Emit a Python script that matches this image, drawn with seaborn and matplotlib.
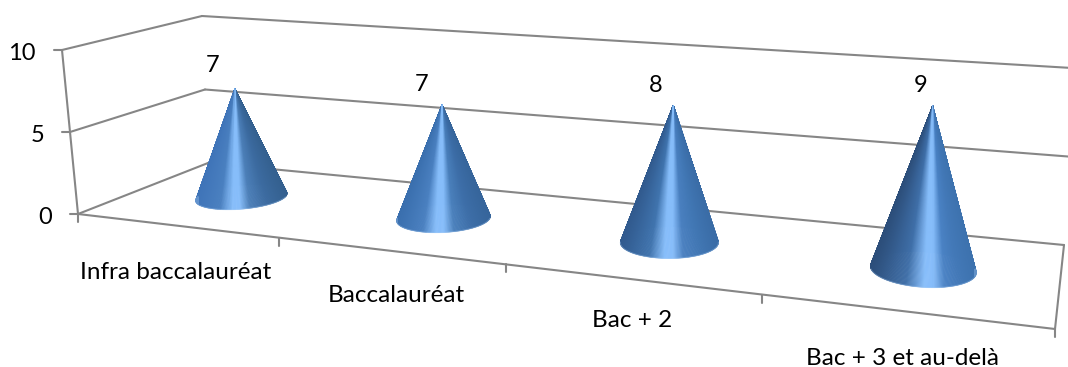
import numpy as np
import pandas as pd
import matplotlib
matplotlib.use('Agg')
import matplotlib.pyplot as plt
import seaborn as sns

categories = ['Infra baccalauréat', 'Baccalauréat', 'Bac + 2', 'Bac + 3 et au-delà']
values = [7, 7, 8, 9]
y_ticks = [0, 5, 10]
y_max = 10

# corners of the 3d box on screen (front left, front right, back right, back left)
floor_box = [(78, 214), (1055, 329), (1064, 245), (208, 163)]
top_box = [(62, 50), (1074, 124), (1072, 68), (202, 16)]

# label nudges, in pixels
value_dx = [-22, -21, -18, -12]
value_dy = [-23, -20, -20, -20]
cat_dx = [-0.5, 7, 2, -1]
cat_dy = [47, 45, 42, 47]

# stops across the cone, offsets from the highlight position
highlight = [0.45, 0.47, 0.5, 0.56]
cone_colors = [
    ['#3f74b8', '#4a80c0', '#86bdfa', '#86bdfa', '#4c7fb8', '#3c6ba0', '#34608f'],
    ['#3a6fae', '#4a80c0', '#86bdfa', '#86bdfa', '#4a80bc', '#3d6ea8', '#36659b'],
    ['#315a8e', '#4074ae', '#86bdfa', '#86bdfa', '#4a80c0', '#4177b4', '#3a6ca6'],
    ['#2c4e7a', '#3f6fa8', '#86bdfa', '#86bdfa', '#4a82c4', '#4379b8', '#3d72ae'],
]
radius_u, radius_w = 0.195, 0.22
base_depth, tip_depth = 0.5, 0.48
cone_shift = 0.007


def homography(box):
    src = [(0, 0), (1, 0), (1, 1), (0, 1)]
    rows, rhs = [], []
    for (a, b), (x, y) in zip(src, box):
        rows.append([a, b, 1, 0, 0, 0, -a * x, -b * x])
        rows.append([0, 0, 0, a, b, 1, -a * y, -b * y])
        rhs += [x, y]
    return np.append(np.linalg.solve(np.array(rows, float), np.array(rhs, float)), 1).reshape(3, 3)


H_floor = homography(floor_box)
H_top = homography(top_box)


def project(u, v, w):
    # u = category position, v = value, w = depth (0 front, 1 back)
    u = np.asarray(u, float)
    s = u / len(categories)
    s = s + 0.04 * s * (1 - s)
    p = np.stack([s, np.asarray(w, float) * np.ones_like(u), np.ones_like(u)])
    a = H_floor @ p
    b = H_top @ p
    a = a[:2] / a[2]
    b = b[:2] / b[2]
    return a + (b - a) * (v / y_max)


sns.set_theme(style='white')
plt.rcParams['font.family'] = ['Lato', 'DejaVu Sans']

fig, ax = plt.subplots(figsize=(10.68, 3.67), dpi=100)
fig.subplots_adjust(0, 0, 1, 1)

# box lines and ticks
rows = []


def seg(name, p, q):
    rows.append((name, p[0], p[1]))
    rows.append((name, q[0], q[1]))


n = len(categories)
for t in y_ticks:
    a = project(0.0, t, 0.0)
    b = project(0.0, t, 1.0)
    c = project(float(n), t, 1.0)
    seg(f'side{t}', a, b)
    seg(f'back{t}', b, c)
    seg(f'tick{t}', a - np.array([8, 0]), a)
    ax.text(a[0] - 26, a[1] + 4, str(t), ha='right', va='center', fontsize=17, color='black')

seg('yaxis', project(0.0, 0, 0.0), project(0.0, y_max, 0.0))
seg('xaxis', project(0.0, 0, 0.0), project(float(n), 0, 0.0))
seg('right', project(float(n), 0, 0.0), project(float(n), 0, 1.0))
for i in range(n + 1):
    p = project(float(i), 0, 0.0)
    seg(f'xtick{i}', p, p + np.array([0, 8]))

lines = pd.DataFrame(rows, columns=['name', 'x', 'y'])
sns.lineplot(data=lines, x='x', y='y', units='name', estimator=None, sort=False,
             color='#868686', lw=1.5, ax=ax, legend=False)

# cones, drawn as a fan of thin triangles from back to front
for i, val in enumerate(values):
    ang = np.linspace(0, 2 * np.pi, 361)
    cu = i + 0.5 + cone_shift
    bx = project(cu + radius_u * np.cos(ang), 0, base_depth + radius_w * np.sin(ang))
    tip = project(cu, val, tip_depth) + np.array([0, 2])
    x0, x1 = bx[0].min(), bx[0].max()
    rgb = np.array([matplotlib.colors.to_rgb(c) for c in cone_colors[i]])
    h = highlight[i]
    stops = [0, h * 0.6, h - 0.05, h + 0.03, h + 0.14, h + (1 - h) * 0.6, 1]
    mid = (bx[:, :-1] + bx[:, 1:]) / 2
    order = np.argsort(mid[1])
    for k in order:
        t = (mid[0, k] - x0) / (x1 - x0)
        col = [np.interp(t, stops, rgb[:, c]) for c in range(3)]
        ax.fill([tip[0], bx[0, k], bx[0, k + 1]], [tip[1], bx[1, k], bx[1, k + 1]],
                color=col, lw=0.4, zorder=3)
    # pale rim along the front of the base
    front = mid[1] > np.median(mid[1])
    ax.plot(mid[0][front][np.argsort(mid[0][front])], mid[1][front][np.argsort(mid[0][front])],
            color='#a8cdf5', lw=0.8, alpha=0.35, zorder=3)
    ax.text(tip[0] + value_dx[i], tip[1] + value_dy[i], str(val), ha='center', va='center',
            fontsize=17, color='black', zorder=4)

    p = project(i + 0.5, 0, 0.0)
    ax.text(p[0] + cat_dx[i], p[1] + cat_dy[i], categories[i], ha='center', va='center',
            fontsize=17.5, color='black')

ax.set_xlim(0, 1068)
ax.set_ylim(367, 0)
ax.axis('off')
fig.savefig('out.png', dpi=100)
